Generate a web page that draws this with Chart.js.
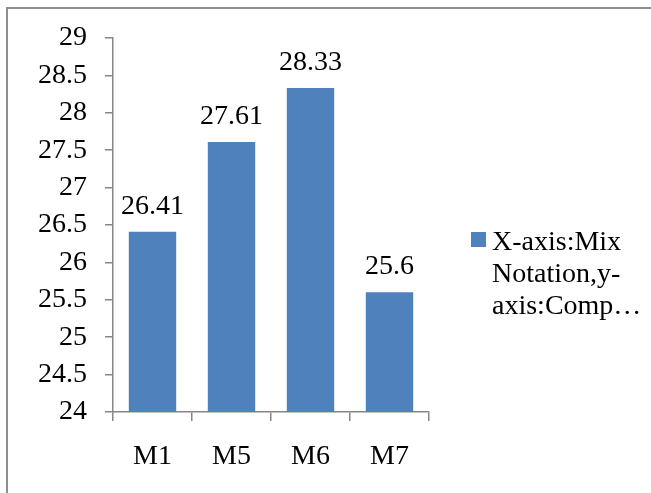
<!DOCTYPE html>
<html>
<head>
<meta charset="utf-8">
<script src="https://cdn.jsdelivr.net/npm/chart.js@4"></script>
<style>
    html, body { margin: 0; padding: 0; background: #fff; }
    #wrap { position: relative; width: 651px; height: 493px; overflow: hidden; }
    #frame { position: absolute; left: 6px; top: 7px; width: 700px; height: 540px;
             border-left: 2px solid #8e8e8e; border-top: 2px solid #8e8e8e; }
    canvas { position: absolute; left: 0; top: 0; }
</style>
</head>
<body>
<div id="wrap">
    <div id="frame"></div>
    <canvas id="chart" width="651" height="493"></canvas>
</div>
<script>
const categories = ['M1', 'M5', 'M6', 'M7'];
const values = [26.41, 27.61, 28.33, 25.6];
const seriesName = 'X-axis:Mix Notation,y-axis:Comparison';
const legendLines = ['X-axis:Mix', 'Notation,y-', 'axis:Comp…'];
const yMin = 24, yMax = 29, yStep = 0.5;

const fontFamily = "'Liberation Serif', 'Times New Roman', serif";
const fontSize = 28;
const barColor = '#4f81bd';
const axisColor = '#868686';

Chart.defaults.font.family = fontFamily;
Chart.defaults.font.size = fontSize;
Chart.defaults.color = '#000';

// value labels above each bar
const valueLabels = {
    id: 'valueLabels',
    afterDatasetsDraw(chart) {
        const ctx = chart.ctx;
        const meta = chart.getDatasetMeta(0);
        ctx.save();
        ctx.font = fontSize + 'px ' + fontFamily;
        ctx.fillStyle = '#000';
        ctx.textAlign = 'center';
        ctx.textBaseline = 'alphabetic';
        meta.data.forEach((bar, i) => {
            ctx.fillText(String(values[i]), bar.x, bar.y - 18);
        });
        ctx.restore();
    }
};

// wrapped legend on the right
const sideLegend = {
    id: 'sideLegend',
    afterDraw(chart) {
        const ctx = chart.ctx;
        const area = chart.chartArea;
        const x = area.right + 42;
        const y = 232;
        ctx.save();
        ctx.fillStyle = barColor;
        ctx.fillRect(x, y, 15, 15);
        ctx.fillStyle = '#000';
        ctx.font = fontSize + 'px ' + fontFamily;
        ctx.textAlign = 'left';
        ctx.textBaseline = 'alphabetic';
        legendLines.forEach((line, i) => {
            ctx.fillText(line, x + 21, 250 + i * 32);
        });
        ctx.restore();
    }
};

new Chart(document.getElementById('chart'), {
    type: 'bar',
    data: {
        labels: categories,
        datasets: [{
            label: seriesName,
            data: values,
            backgroundColor: barColor,
            barPercentage: 0.6,
            categoryPercentage: 1
        }]
    },
    options: {
        responsive: false,
        animation: false,
        layout: { padding: { left: 0, top: 38, right: 222, bottom: 0 } },
        plugins: {
            legend: { display: false },
            tooltip: { enabled: false }
        },
        scales: {
            x: {
                grid: { display: true, drawOnChartArea: false, drawTicks: true, tickLength: 9, color: axisColor, lineWidth: 1.5 },
                border: { display: true, color: axisColor, width: 1.5 },
                ticks: { padding: 19 },
                afterFit(scale) { scale.height = 81; }
            },
            y: {
                min: yMin,
                max: yMax,
                grid: { display: true, drawOnChartArea: false, drawTicks: true, tickLength: 8, color: axisColor, lineWidth: 1.5 },
                border: { display: true, color: axisColor, width: 1.5 },
                ticks: { stepSize: yStep, padding: 18, callback: v => String(v) },
                afterFit(scale) { scale.width = 113; }
            }
        }
    },
    plugins: [valueLabels, sideLegend]
});
</script>
</body>
</html>
